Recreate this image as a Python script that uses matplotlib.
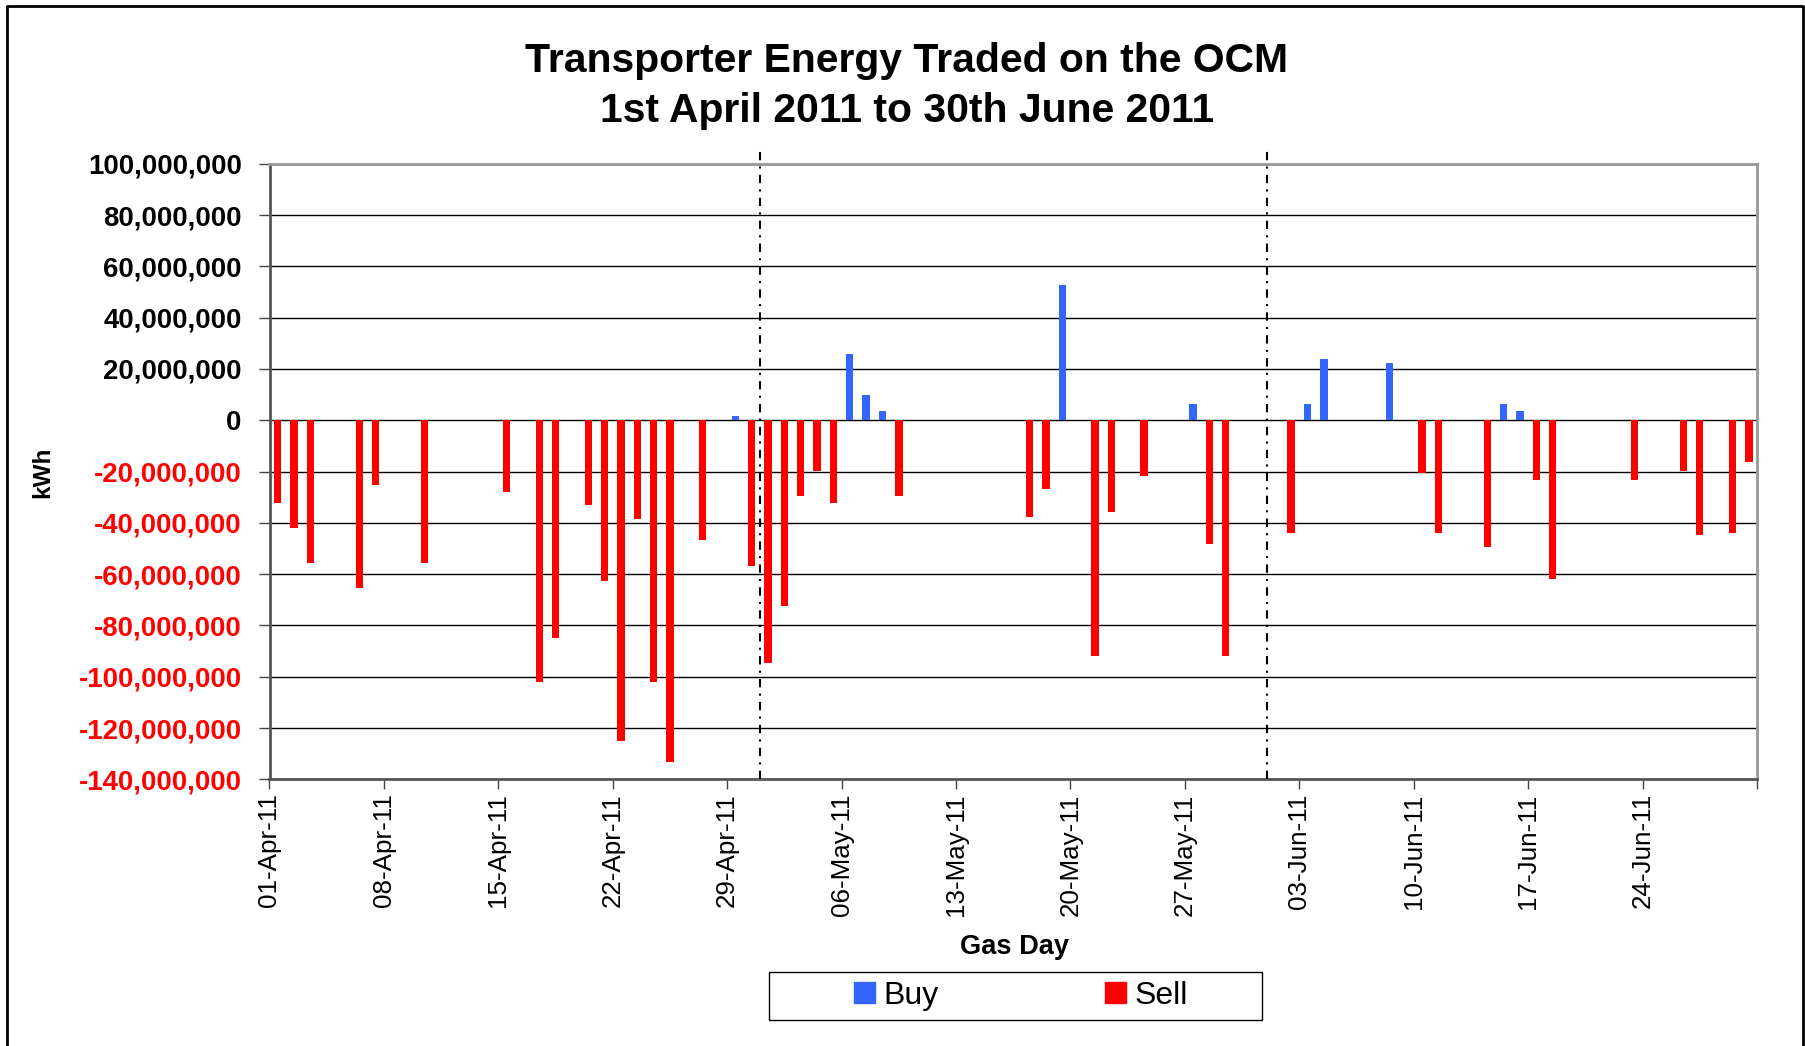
import matplotlib
matplotlib.use("Agg")
import matplotlib.pyplot as plt
import pandas as pd
from matplotlib.lines import Line2D
from matplotlib.patches import Rectangle
from matplotlib.ticker import FuncFormatter

# OCM trades by gas day, kWh
buy_days = ["2011-04-29", "2011-05-06", "2011-05-07", "2011-05-08", "2011-05-19",
            "2011-05-27", "2011-06-03", "2011-06-04", "2011-06-08", "2011-06-15",
            "2011-06-16"]
buy_kwh = [1.7e6, 25.9e6, 9.9e6, 3.6e6, 52.8e6, 6.4e6, 6.4e6, 23.9e6, 22.4e6, 6.4e6, 3.6e6]

sell_days = ["2011-04-01", "2011-04-02", "2011-04-03", "2011-04-06", "2011-04-07",
             "2011-04-10", "2011-04-15", "2011-04-17", "2011-04-18", "2011-04-20",
             "2011-04-21", "2011-04-22", "2011-04-23", "2011-04-24", "2011-04-25",
             "2011-04-27", "2011-04-30", "2011-05-01", "2011-05-02", "2011-05-03",
             "2011-05-04", "2011-05-05", "2011-05-09", "2011-05-17", "2011-05-18",
             "2011-05-21", "2011-05-22", "2011-05-24", "2011-05-28", "2011-05-29",
             "2011-06-02", "2011-06-10", "2011-06-11", "2011-06-14", "2011-06-17",
             "2011-06-18", "2011-06-23", "2011-06-26", "2011-06-27", "2011-06-29",
             "2011-06-30"]
sell_kwh = [-32.1e6, -41.9e6, -55.5e6, -65.3e6, -25.1e6,
            -55.5e6, -27.8e6, -101.9e6, -84.8e6, -32.9e6,
            -62.5e6, -124.9e6, -38.4e6, -101.9e6, -133.1e6,
            -46.5e6, -57.0e6, -94.5e6, -72.3e6, -29.4e6,
            -19.6e6, -32.1e6, -29.4e6, -37.6e6, -26.7e6,
            -91.8e6, -35.6e6, -21.6e6, -48.1e6, -91.8e6,
            -43.8e6, -20.4e6, -43.8e6, -49.3e6, -23.1e6,
            -61.8e6, -23.1e6, -19.6e6, -44.6e6, -43.8e6,
            -16.1e6]

month_breaks = ["2011-05-01", "2011-06-01"]
period = ("2011-04-01", "2011-07-01")

BUY = "#3366FF"
SELL = "#FF0000"
FONT = "Liberation Sans"

W, H = 1805, 1046
fig = plt.figure(figsize=(W / 100, H / 100), dpi=100)
ax = fig.add_axes([269.5 / W, 1 - 779.3 / H, (1757 - 269.5) / W, (779.3 - 163.8) / H])

half_day = pd.Timedelta(hours=12)
ax.bar(pd.to_datetime(buy_days) + half_day, buy_kwh, width=0.45, color=BUY, zorder=3)
ax.bar(pd.to_datetime(sell_days) + half_day, sell_kwh, width=0.45, color=SELL, zorder=3)

for d in month_breaks:
    ax.axvline(pd.Timestamp(d), ymin=0, ymax=1.022, color="black", lw=1.5,
               linestyle=(0, (4, 3, 1, 3)), clip_on=False, zorder=4)

ax.set_xlim(pd.Timestamp(period[0]), pd.Timestamp(period[1]))
ax.set_ylim(-140e6, 100e6)

weeks = pd.date_range(period[0], period[1], freq="7D")
ax.set_xticks(weeks)
ax.set_xticklabels([w.strftime("%d-%b-%y") for w in weeks[:-1]] + [""],
                   rotation=90, fontsize=18.7, family=FONT)
ax.set_yticks([v * 1e6 for v in range(-140, 101, 20)])
ax.yaxis.set_major_formatter(FuncFormatter(lambda v, _: f"{v:,.0f}"))
ax.tick_params(axis="y", length=8, width=1, pad=12, labelsize=19.9, color="#444444")
ax.tick_params(axis="x", length=7, width=1, pad=3, color="#444444")
for lab in ax.get_yticklabels():
    lab.set_fontweight("bold")
    lab.set_family(FONT)
    if lab.get_position()[1] < 0:
        lab.set_color(SELL)

ax.yaxis.grid(True, color="black", lw=1)
ax.set_axisbelow(True)
for side in ["left", "bottom"]:
    ax.spines[side].set_color("#555555")
    ax.spines[side].set_linewidth(2)
for side in ["top", "right"]:
    ax.spines[side].set_color("#999999")
    ax.spines[side].set_linewidth(2)

fig.text(907 / W, 1 - 86.5 / H, "Transporter Energy Traded on the OCM\n1st April 2011 to 30th June 2011",
         ha="center", va="center", fontsize=29.4, fontweight="bold", family=FONT, linespacing=1.4)
fig.text(1014 / W, 1 - 947 / H, "Gas Day", ha="center", va="center",
         fontsize=19.6, fontweight="bold", family=FONT)
fig.text(42.6 / W, 1 - 472 / H, "kWh", ha="center", va="center", rotation=90,
         fontsize=17.5, fontweight="bold", family=FONT)

# legend
handles = [Rectangle((0, 0), 1, 1, color=BUY), Rectangle((0, 0), 1, 1, color=SELL)]
fig.legend(handles, ["Buy", "Sell"], loc="center", ncol=2, frameon=False,
           bbox_to_anchor=(1021 / W, 1 - 995.75 / H),
           prop={"family": FONT, "size": 23}, handlelength=0.66, handleheight=0.66,
           handletextpad=0.26, columnspacing=5.2)
fig.add_artist(Rectangle((769 / W, 1 - 1020 / H), (1262 - 769) / W, 48.5 / H,
                         transform=fig.transFigure, fill=False, ec="black", lw=1))

# outer chart border
fig.add_artist(Line2D([7 / W, 7 / W, 1803 / W, 1803 / W], [0, 1 - 6 / H, 1 - 6 / H, 0],
                      transform=fig.transFigure, color="black", lw=2))

fig.savefig("out.png", dpi=100)
